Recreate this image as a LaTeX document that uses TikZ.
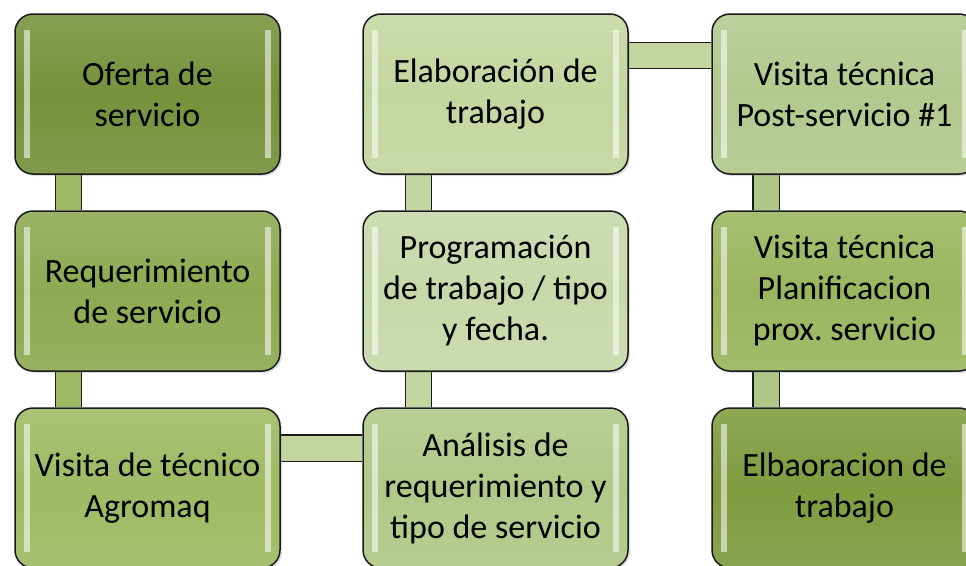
\documentclass[tikz,border=0pt]{standalone}
\usepackage{fontspec}
\newfontfamily\boxfont{Carlito}
\usetikzlibrary{shadows,backgrounds}
\definecolor{cA}{HTML}{76923C}
\definecolor{cB}{HTML}{8DAA52}
\definecolor{cC}{HTML}{9EBA63}
\definecolor{cD}{HTML}{C4D6A0}
\definecolor{cE}{HTML}{C7D8A9}
\definecolor{cF}{HTML}{B0C887}
\definecolor{cG}{HTML}{B2C98E}
\definecolor{cH}{HTML}{9AB65E}
\definecolor{cI}{HTML}{7F9C3F}
\definecolor{bdr}{HTML}{1A1A1A}
\tikzset{
  procbox/.style={draw=bdr, line width=1.5pt, rounded corners=18pt,
    minimum width=265pt, minimum height=160pt, align=center,
    font={\boxfont\fontsize{34}{41}\selectfont}, text=black,
    top color=#1!88!white, bottom color=#1!92!white, middle color=#1,
    drop shadow={opacity=0.25, shadow xshift=2pt, shadow yshift=-2pt},
    path picture={
      \fill[white, opacity=0.55, sharp corners] ([xshift=9pt,yshift=-16pt]path picture bounding box.north west) rectangle ([xshift=15pt,yshift=16pt]path picture bounding box.south west);
      \fill[white, opacity=0.55, sharp corners] ([xshift=-15pt,yshift=-16pt]path picture bounding box.north east) rectangle ([xshift=-9pt,yshift=16pt]path picture bounding box.south east);
    }},
  linkbar/.style={line width=1.4pt, draw=bdr, double=#1, double distance=25pt}
}
\begin{document}
\begin{tikzpicture}[x=1pt,y=-1pt]
\clip (0,0) rectangle (966,565);
\node[procbox=cA] (o1) at (147.5,94) {Oferta de\\servicio};
\node[procbox=cB] (r1) at (147.5,291) {Requerimiento\\de servicio};
\node[procbox=cC] (v1) at (147.5,488) {Visita de técnico\\Agromaq};
\node[procbox=cD] (e2) at (495.5,94) {Elaboración de\\trabajo};
\node[procbox=cE] (p2) at (495.5,291) {Programación\\de trabajo / tipo\\y fecha.};
\node[procbox=cF] (a2) at (495.5,488) {Análisis de\\requerimiento y\\tipo de servicio};
\node[procbox=cG] (t1) at (844.5,94) {Visita técnica\\Post-servicio \#1};
\node[procbox=cH] (t2) at (844.5,291) {Visita técnica\\Planificacion\\prox.\ servicio};
\node[procbox=cI] (t3) at (844.5,488) {Elbaoracion de\\trabajo};
\begin{scope}[on background layer]
\fill[white] (0,0) rectangle (966,565);
\draw[linkbar=cC] ([xshift=-79pt]o1.south) -- ([xshift=-79pt]r1.north);
\draw[linkbar=cC] ([xshift=-79pt]r1.south) -- ([xshift=-79pt]v1.north);
\draw[linkbar=cD] ([yshift=40pt]v1.east) -- ([yshift=40pt]a2.west);
\draw[linkbar=cD] ([xshift=-77pt]a2.north) -- ([xshift=-77pt]p2.south);
\draw[linkbar=cD] ([xshift=-77pt]p2.north) -- ([xshift=-77pt]e2.south);
\draw[linkbar=cD] ([yshift=38.5pt]e2.east) -- ([yshift=38.5pt]t1.west);
\draw[linkbar=cF] ([xshift=-78.5pt]t1.south) -- ([xshift=-78.5pt]t2.north);
\draw[linkbar=cF] ([xshift=-78.5pt]t2.south) -- ([xshift=-78.5pt]t3.north);
\end{scope}
\end{tikzpicture}
\end{document}
